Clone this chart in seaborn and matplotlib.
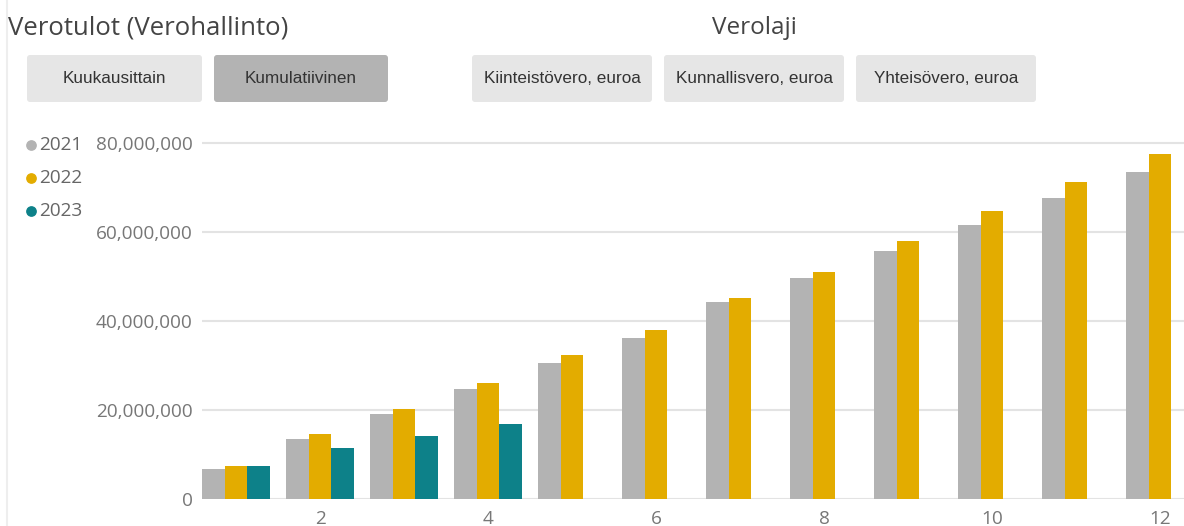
import matplotlib
matplotlib.use("Agg")
import matplotlib.pyplot as plt
from matplotlib.patches import FancyBboxPatch
from matplotlib.ticker import FuncFormatter
import pandas as pd
import seaborn as sns

# kumulatiiviset verotulot, euroa (luettu kuvasta)
months = list(range(1, 13))
years = ["2021", "2022", "2023"]
v2021 = [6.8e6, 13.5e6, 19.0e6, 24.6e6, 30.6e6, 36.1e6, 44.2e6, 49.5e6, 55.6e6, 61.4e6, 67.5e6, 73.3e6]
v2022 = [7.5e6, 14.7e6, 20.2e6, 26.0e6, 32.3e6, 37.9e6, 45.1e6, 51.0e6, 57.9e6, 64.7e6, 71.2e6, 77.4e6]
v2023 = [7.4e6, 11.5e6, 14.1e6, 16.8e6]
colors = ["#b3b3b3", "#e3ac00", "#0d8189"]

left_buttons = ["Kuukausittain", "Kumulatiivinen"]
right_buttons = ["Kiinteistövero, euroa", "Kunnallisvero, euroa", "Yhteisövero, euroa"]

rows = []
for year, vals in zip(years, [v2021, v2022, v2023]):
    for m, v in zip(months, vals):
        rows.append({"kk": m, "vuosi": year, "euroa": v})
df = pd.DataFrame(rows)

sns.set_style("white")
plt.rcParams["font.family"] = ["Open Sans", "DejaVu Sans"]

W, H = 1184, 526
fig = plt.figure(figsize=(W / 100, H / 100), dpi=100)

# pikselikoordinaateilla piirrettävä kerros otsikoille ja napeille
over = fig.add_axes([0, 0, 1, 1])
over.set_xlim(0, W)
over.set_ylim(H, 0)
over.axis("off")

# kaavio
x0, x1, ytop, ybot = 202.4, 1184, 138, 499
ax = fig.add_axes([x0 / W, (H - ybot) / H, (x1 - x0) / W, (ybot - ytop) / H])
sns.barplot(data=df, x="kk", y="euroa", hue="vuosi", order=months, hue_order=years,
            palette=colors, errorbar=None, width=0.8, linewidth=0, saturation=1,
            ax=ax, legend=False)

step = 84.0
ax.set_xlim(-0.4, -0.4 + (x1 - x0) / step)
ax.set_ylim(0, (ybot - ytop) * 20e6 / 89.1)
ax.set_yticks([0, 20e6, 40e6, 60e6, 80e6])
ax.yaxis.set_major_formatter(FuncFormatter(lambda v, p: f"{v:,.0f}"))
ax.set_xticks([1, 3, 5, 7, 9, 11])
ax.set_xticklabels(["2", "4", "6", "8", "10", "12"])
ax.grid(axis="y", color="#e3e3e3", linewidth=1.5)
ax.set_axisbelow(True)
for s in ax.spines.values():
    s.set_visible(False)
ax.tick_params(axis="both", length=0, labelsize=13.7, labelcolor="#777777")
ax.tick_params(axis="y", pad=7)
ax.tick_params(axis="x", pad=8)
ax.set_xlabel("")
ax.set_ylabel("")
ax.patch.set_alpha(0)

# otsikot
over.text(8, 28, "Verotulot (Verohallinto)", fontsize=18.5, color="#444444", va="center", ha="left")
over.text(754, 28, "Verolaji", fontsize=17.5, color="#444444", va="center", ha="center")

# napit
def button(x, w, label, fc):
    over.add_patch(FancyBboxPatch((x, 55), w, 47, boxstyle="round,pad=0,rounding_size=3",
                                  fc=fc, ec="none"))
    over.text(x + w / 2, 78.5, label, fontsize=12.3, color="#333333", ha="center", va="center",
              family=["Liberation Sans", "DejaVu Sans"])

button(27, 175, left_buttons[0], "#e6e6e6")
button(214, 174, left_buttons[1], "#b3b3b3")
for bx, label in zip([472, 664, 856], right_buttons):
    button(bx, 180, label, "#e6e6e6")

# selite
for i, (year, c) in enumerate(zip(years, colors)):
    y = 145 + i * 33
    over.scatter([31], [y], s=45, color=c, zorder=3)
    over.text(39, y, year, fontsize=13.7, color="#666666", va="center", ha="left")

# vasen reunaviiva
over.plot([7, 7], [0, H], color="#eeeeee", linewidth=1.5)

fig.savefig("out.png", dpi=100)
